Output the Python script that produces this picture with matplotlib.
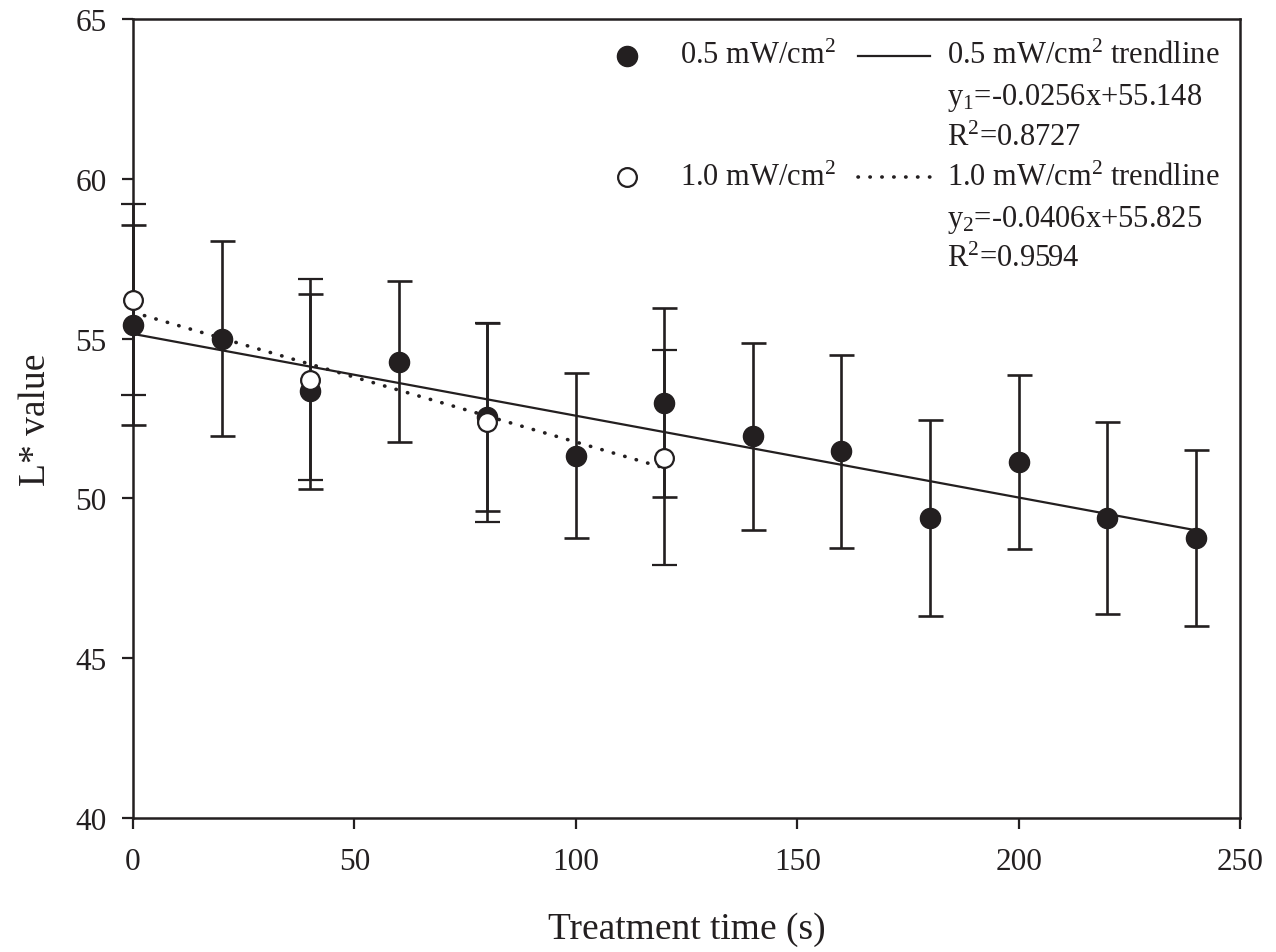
import matplotlib.pyplot as plt
import numpy as np

plt.rcParams['font.family'] = ['Liberation Serif', 'DejaVu Serif']
plt.rcParams['mathtext.fontset'] = 'custom'
plt.rcParams['mathtext.rm'] = 'Liberation Serif'

INK = '#231f20'

# L* readings, 0.5 mW/cm2
time_05 = [0, 20, 40, 60, 80, 100, 120, 140, 160, 180, 200, 220, 240]
L_05 = [55.43, 55.00, 53.35, 54.28, 52.55, 51.34, 53.00, 51.94, 51.47, 49.39, 51.14, 49.39, 48.76]
sd_05 = [3.13, 3.05, 3.05, 2.52, 2.94, 2.58, 2.96, 2.93, 3.02, 3.07, 2.72, 3.00, 2.75]

# L* readings, 1.0 mW/cm2
time_10 = [0, 40, 80, 120]
L_10 = [56.22, 53.72, 52.38, 51.28]
sd_10 = [2.99, 3.15, 3.12, 3.36]

# linear trendlines (slope, intercept, R^2)
fit_05 = (-0.0256, 55.148, 0.8727)
fit_10 = (-0.0406, 55.825, 0.9594)

fig = plt.figure(figsize=(12.76, 9.53), dpi=100)
ax = fig.add_axes([0.1042, 0.1406, 0.8676, 0.8384])

dotted = (0, (0.1, 3.2))

# trendlines
x1 = np.array([min(time_05), max(time_05)])
ax.plot(x1, fit_05[0] * x1 + fit_05[1], color=INK, lw=1.6, zorder=2)
x2 = np.array([min(time_10), max(time_10)])
ax.plot(x2, fit_10[0] * x2 + fit_10[1], color=INK, lw=2.6,
        linestyle=dotted, dash_capstyle='round', zorder=2)

eb1 = ax.errorbar(time_05, L_05, yerr=sd_05, fmt='o', color=INK, ms=14.5,
                  mfc=INK, mec=INK, elinewidth=1.9, capsize=9, capthick=1.9,
                  zorder=3)
eb2 = ax.errorbar(time_10, L_10, yerr=sd_10, fmt='o', color=INK, ms=13.5,
                  mfc='white', mec=INK, mew=1.6, elinewidth=1.9, capsize=9,
                  capthick=1.9, zorder=4)
for eb in (eb1, eb2):
    for art in eb.get_children():
        art.set_clip_on(False)

ax.set_xlim(0, 250)
ax.set_ylim(40, 65)
ax.set_xticks(np.arange(0, 251, 50))
ax.set_yticks(np.arange(40, 66, 5))
ax.tick_params(direction='out', length=8, width=1.6, colors=INK,
               labelsize=22.5)
ax.tick_params(axis='x', pad=13)
ax.tick_params(axis='y', pad=11)
for s in ax.spines.values():
    s.set_linewidth(1.8)
    s.set_color(INK)

ax.set_xlabel('Treatment time (s)', fontsize=27, color=INK, labelpad=25)
ax.set_ylabel('L* value', fontsize=27, color=INK, labelpad=16)

# legend block
tr = ax.transAxes
fs = 22
sup2 = r'$\mathregular{^2}$'
ax.plot([0.446], [0.954], 'o', ms=14.5, color=INK, transform=tr, clip_on=False)
ax.plot([0.446], [0.802], 'o', ms=13.5, mfc='white', mec=INK, mew=1.6,
        transform=tr, clip_on=False)
ax.text(0.494, 0.954, '0.5 mW/cm' + sup2, transform=tr, fontsize=fs,
        color=INK, va='center')
ax.text(0.494, 0.802, '1.0 mW/cm' + sup2, transform=tr, fontsize=fs,
        color=INK, va='center')
ax.plot([0.655, 0.720], [0.954, 0.954], color=INK, lw=1.6, transform=tr)
ax.plot([0.655, 0.724], [0.802, 0.802], color=INK, lw=2.6,
        linestyle=dotted, dash_capstyle='round', transform=tr)

ax.text(0.735, 0.954, '0.5 mW/cm' + sup2 + ' trendline', transform=tr,
        fontsize=fs, color=INK, va='center')
ax.text(0.735, 0.902, r'y$\mathregular{_1}$=%.4fx+%.3f' % fit_05[:2],
        transform=tr, fontsize=fs, color=INK, va='center')
ax.text(0.735, 0.852, 'R' + sup2 + '=%.4f' % fit_05[2], transform=tr,
        fontsize=fs, color=INK, va='center')
ax.text(0.735, 0.802, '1.0 mW/cm' + sup2 + ' trendline', transform=tr,
        fontsize=fs, color=INK, va='center')
ax.text(0.735, 0.750, r'y$\mathregular{_2}$=%.4fx+%.3f' % fit_10[:2],
        transform=tr, fontsize=fs, color=INK, va='center')
ax.text(0.735, 0.700, 'R' + sup2 + '=%.4f' % fit_10[2], transform=tr,
        fontsize=fs, color=INK, va='center')

fig.savefig('out.png', dpi=100)
